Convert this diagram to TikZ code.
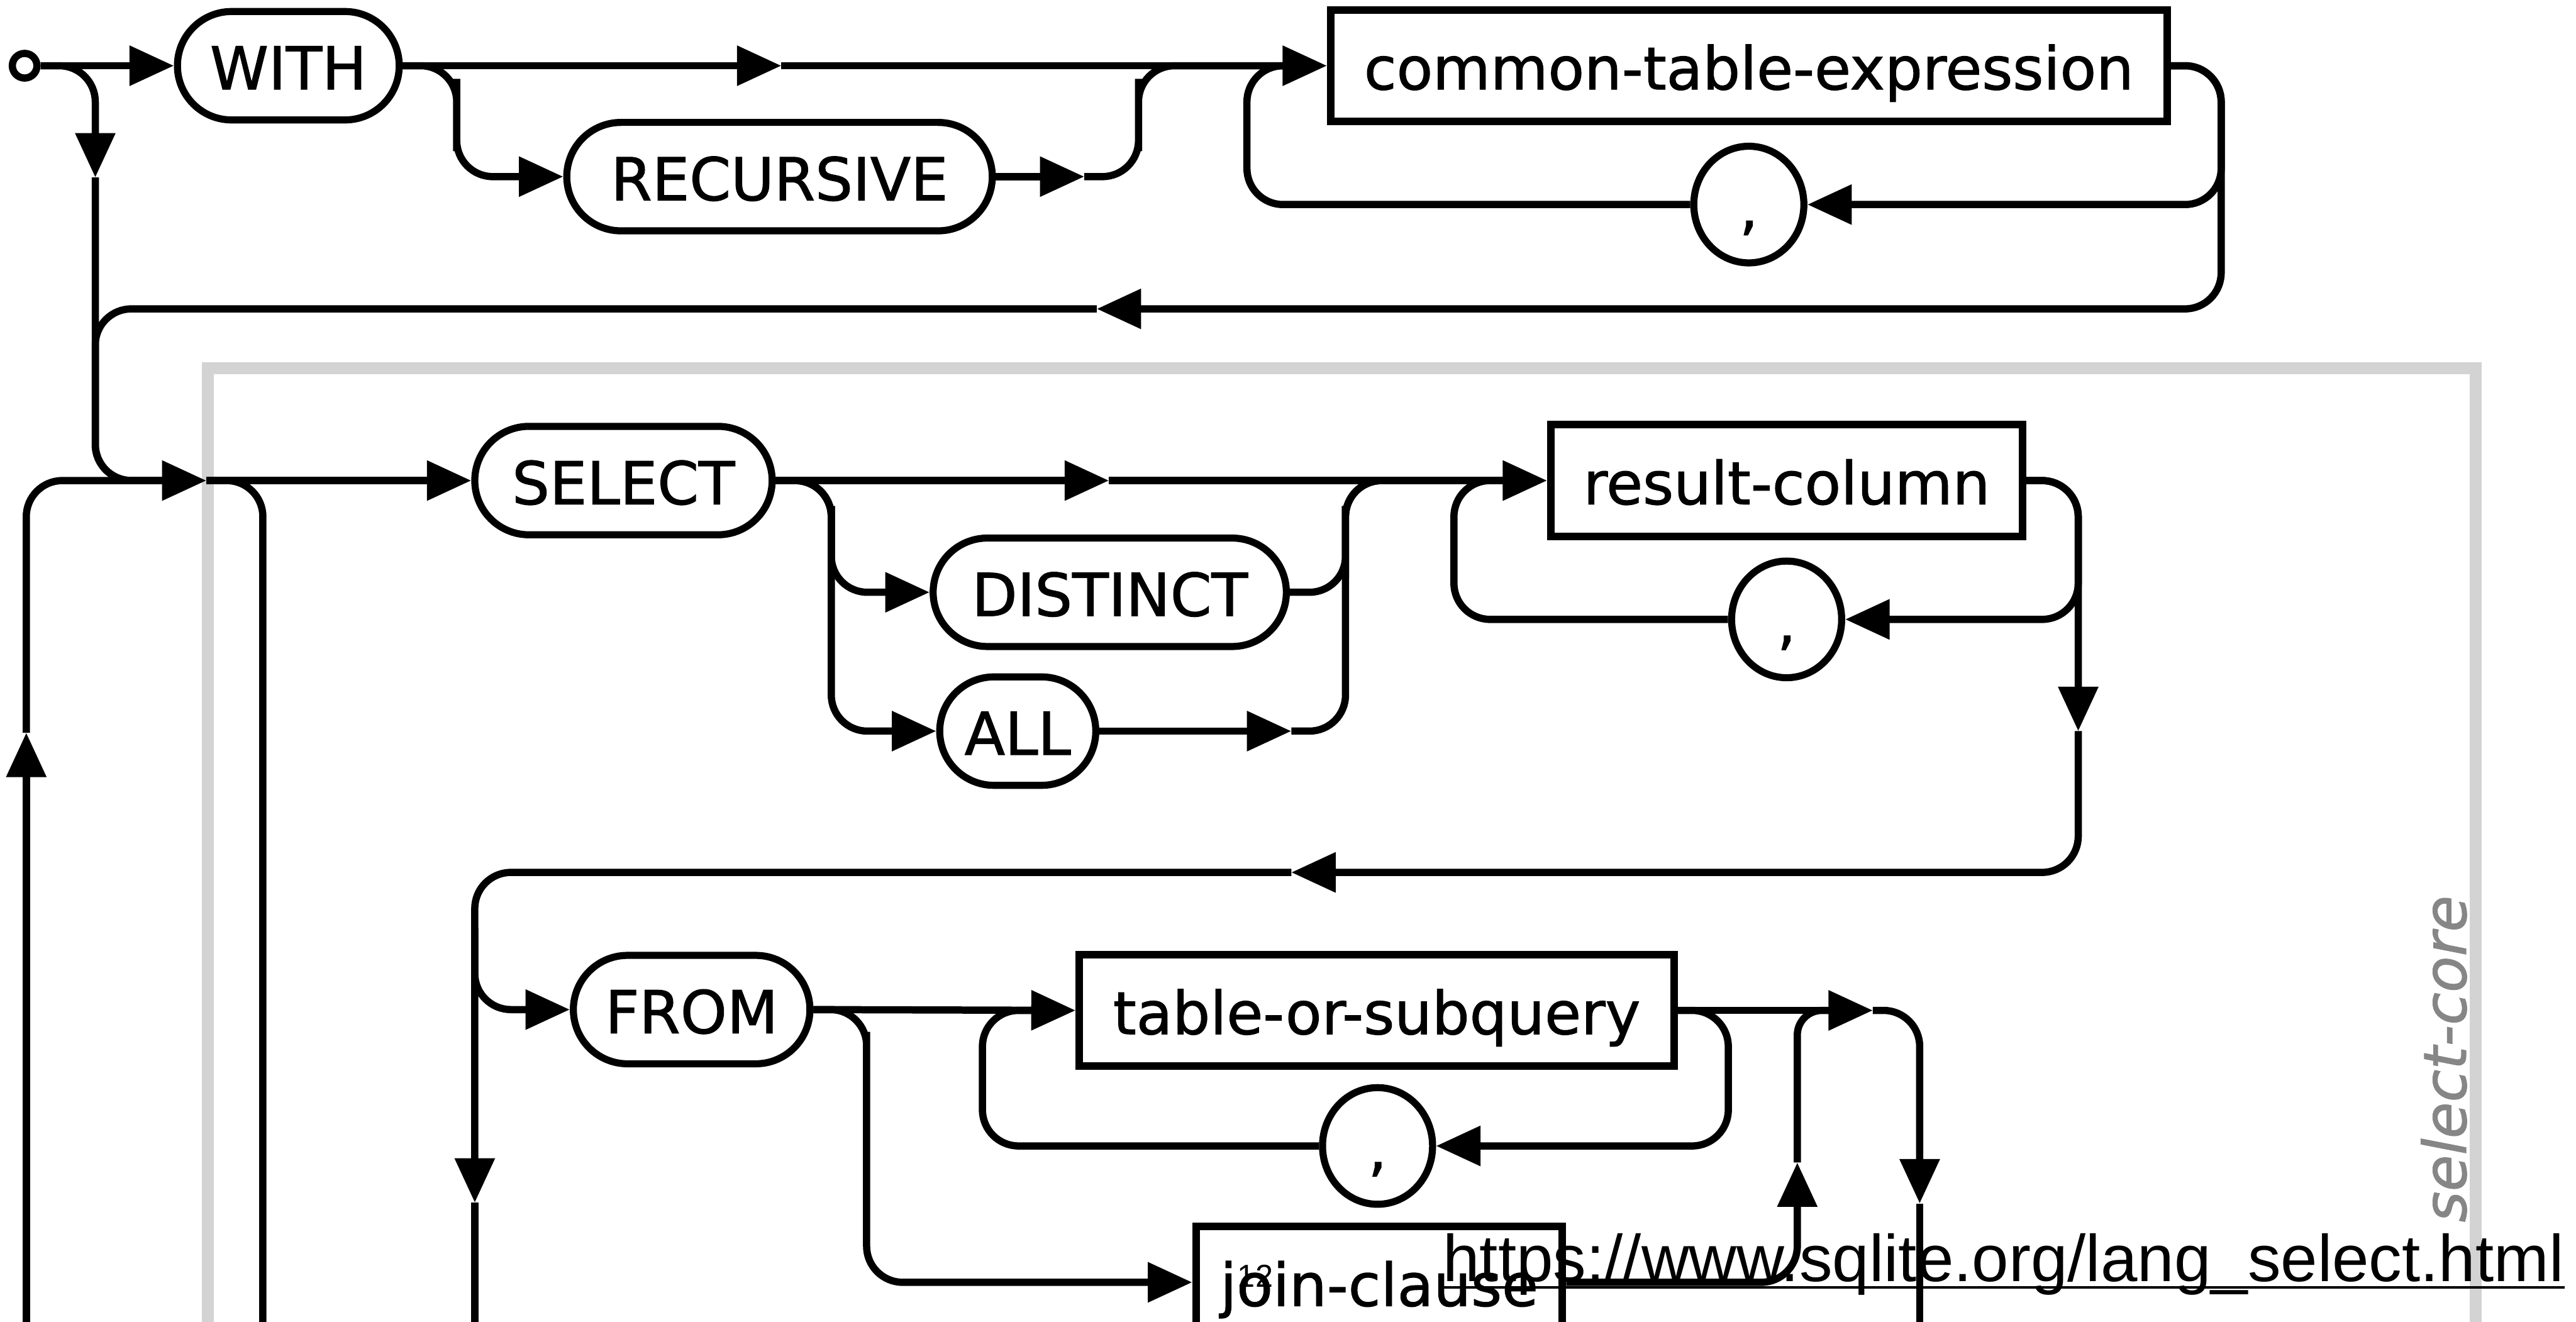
\documentclass[tikz,border=0pt]{standalone}
\usepackage{fontspec}
\setmainfont{DejaVu Sans}
\newfontfamily\railfont[FakeBold=1.2]{DejaVu Sans}
\newfontfamily\webfont{Liberation Sans}
\usetikzlibrary{arrows.meta,shapes.geometric}

\definecolor{framegray}{HTML}{D3D3D3}
\definecolor{labelgray}{HTML}{868686}

\tikzset{
  rail/.style={line width=0.88mm},
  arrowed/.style={rail, -{Triangle[length=5.4mm,width=4.7mm]}},
  bendy/.style={rail, rounded corners=4.4mm},
  keyword/.style={draw, line width=0.86mm, fill=white, rounded corners=6.6mm,
    minimum height=13.2mm, inner sep=0pt, text height=16.4pt, text depth=0pt,
    font=\railfont\fontsize{20.5}{24}\selectfont},
  nonterm/.style={keyword, sharp corners, line width=0.92mm, minimum height=13.6mm},
  punct/.style={keyword, ellipse, sharp corners, minimum width=13.4mm, minimum height=14.2mm},
}

\begin{document}
\begin{tikzpicture}[x=0.2mm, y=-0.2mm]
        \useasboundingbox (0,0) rectangle (1568,804.5);
        \clip (0,0) rectangle (1568,804.5);

        % select-core frame
        \draw[framegray, line width=1.46mm] (126.5,224) rectangle (1507,900);

        % WITH clause
        \node[draw, circle, line width=0.88mm, minimum size=3mm, inner sep=0pt, fill=white] (start) at (15,40) {};
        \node[keyword, minimum width=27mm] (with) at (175.5,40) {WITH};
        \node[keyword, minimum width=51.8mm] (recursive) at (474.5,107.5) {RECURSIVE};
        \node[nonterm, minimum width=101.8mm] (cte) at (1064.5,40) {common-table-expression};
        \node[punct] (cte comma) at (1064.5,124.5) {,};

        % SELECT, DISTINCT / ALL, result columns
        \node[keyword, minimum width=36.2mm] (select) at (379.5,292.5) {SELECT};
        \node[keyword, minimum width=43mm] (distinct) at (675.5,360.5) {DISTINCT};
        \node[keyword, minimum width=19mm] (all) at (619.5,445) {ALL};
        \node[nonterm, minimum width=57.4mm] (rc) at (1087.5,292.5) {result-column};
        \node[punct] (rc comma) at (1087.5,377) {,};

        % FROM part
        \node[keyword, minimum width=28.8mm] (from) at (421,614.5) {FROM};
        \node[nonterm, minimum width=72.4mm] (tos) at (838,615) {table-or-subquery};
        \node[punct] (tos comma) at (838.5,697.5) {,};
        \node[nonterm, minimum width=44.6mm] (jc) at (839.5,780.5) {join-clause};

        % junction points
        \coordinate (skip arrow) at (58,108);
        \coordinate (entry) at (58,292.5);
        \coordinate (merge) at (98,292.5);
        \coordinate (join) at (125.6,292.5);
        \coordinate (loop arrow) at (16,446);
        \coordinate (loop bottom) at (16,840);
        \coordinate (skip bottom) at (160,840);
        \coordinate (with arrow) at (475.6,40);
        \coordinate (rec rail) at (278,70);
        \coordinate (rec arrow) at (660,107.5);
        \coordinate (rec exit) at (693,70);
        \coordinate (cte loop) at (759,40);
        \coordinate (cte base) at (781,40);
        \coordinate (cte turn) at (1352,124.5);
        \coordinate (cte wrap) at (1352,188);
        \coordinate (back arrow) at (667.6,188);
        \coordinate (sel arrow) at (675,292.5);
        \coordinate (opt rail) at (506,330);
        \coordinate (opt exit) at (819,330);
        \coordinate (all arrow) at (786,445);
        \coordinate (rc loop) at (885,292.5);
        \coordinate (rc base) at (915,292.5);
        \coordinate (rc turn) at (1265,377);
        \coordinate (rc drop) at (1265,445);
        \coordinate (from arrow) at (786,531);
        \coordinate (from split) at (289,565);
        \coordinate (from drop) at (289,732);
        \coordinate (from bottom) at (289,840);
        \coordinate (join rail) at (527.5,650);
        \coordinate (tos loop) at (598,615);
        \coordinate (tos base) at (628,615);
        \coordinate (tos turn) at (1052,697.5);
        \coordinate (core base) at (1116,615);
        \coordinate (core arrow) at (1140,615);
        \coordinate (core drop) at (1168.5,732.5);
        \coordinate (core bottom) at (1168.5,840);
        \coordinate (jc rise) at (1094,707.6);

        % top line
        \draw[arrowed] (start.east) -- (with.west);
        \draw[bendy, arrowed] (start.east) -| (skip arrow);
        \draw[bendy] (skip arrow) |- (merge);
        \draw[arrowed] (with.east) -- (with arrow);
        \draw[arrowed] (with arrow) -- (cte.west);
        \draw[bendy, arrowed] (with.east) -| (rec rail) |- (recursive.west);
        \draw[arrowed] (recursive.east) -- (rec arrow);
        \draw[bendy] (rec arrow) -| (rec exit) |- (cte base);
        \draw[bendy, arrowed] (cte.east) -| (cte turn) -- (cte comma.east);
        \draw[bendy] (cte comma.west) -| (cte loop) -- (cte base);
        \draw[bendy, arrowed] (cte.east) -| (cte wrap) -- (back arrow);
        \draw[bendy] (back arrow) -| (entry) -- (merge);

        % loop back from below
        \draw[arrowed] (loop bottom) -- (loop arrow);
        \draw[bendy] (loop arrow) |- (merge);
        \draw[arrowed] (merge) -- (join);
        \draw[bendy] (join) -| (skip bottom);

        % select line
        \draw[arrowed] (join) -- (select.west);
        \draw[arrowed] (select.east) -- (sel arrow);
        \draw[arrowed] (sel arrow) -- (rc.west);
        \draw[bendy, arrowed] (select.east) -| (opt rail) |- (distinct.west);
        \draw[bendy, arrowed] (select.east) -| (opt rail) |- (all.west);
        \draw[arrowed] (all.east) -- (all arrow);
        \draw[bendy] (all arrow) -| (opt exit) |- (rc base);
        \draw[bendy] (distinct.east) -| (opt exit) |- (rc base);
        \draw[bendy, arrowed] (rc.east) -| (rc turn) -- (rc comma.east);
        \draw[bendy] (rc comma.west) -| (rc loop) -- (rc base);
        \draw[bendy, arrowed] (rc.east) -| (rc drop);
        \draw[bendy, arrowed] (rc drop) |- (from arrow);
        \draw[bendy, arrowed] (from arrow) -| (from drop);
        \draw[rail] (from drop) -- (from bottom);

        % from line
        \draw[bendy, arrowed] (from split) |- (from.west);
        \draw[arrowed] (from.east) -- (tos.west);
        \draw[bendy, arrowed] (from.east) -| (join rail) |- (jc.west);
        \draw[bendy, arrowed] (tos.east) -| (tos turn) -- (tos comma.east);
        \draw[bendy] (tos comma.west) -| (tos loop) -- (tos base);
        \draw[arrowed] (tos.east) -- (core arrow);
        \draw[bendy, arrowed] (core arrow) -| (core drop);
        \draw[rail] (core drop) -- (core bottom);
        \draw[bendy, arrowed] (jc.east) -| (jc rise);
        \draw[rail, rounded corners=3mm] (jc rise) |- (core base);

        % frame label
        \node[font=\railfont\fontsize{20.5}{24}\selectfont\itshape, text=labelgray, rotate=90,
          anchor=base, inner sep=0pt] (core label) at (1501,644.5) {select-core};

        % source link and page number
        \node[font=\webfont\fontsize{22.9}{27}\selectfont, anchor=base west, inner sep=0pt]
          (url) at (878,780) {https://www.sqlite.org/lang\_select.html};
        \draw[line width=0.34mm] ([yshift=-0.72mm]url.base west) -- ([yshift=-0.72mm]url.base east);
        \node[font=\webfont\fontsize{11}{13}\selectfont, anchor=base west, inner sep=0pt]
          (page no) at (753,783.5) {12};
\end{tikzpicture}
\end{document}
